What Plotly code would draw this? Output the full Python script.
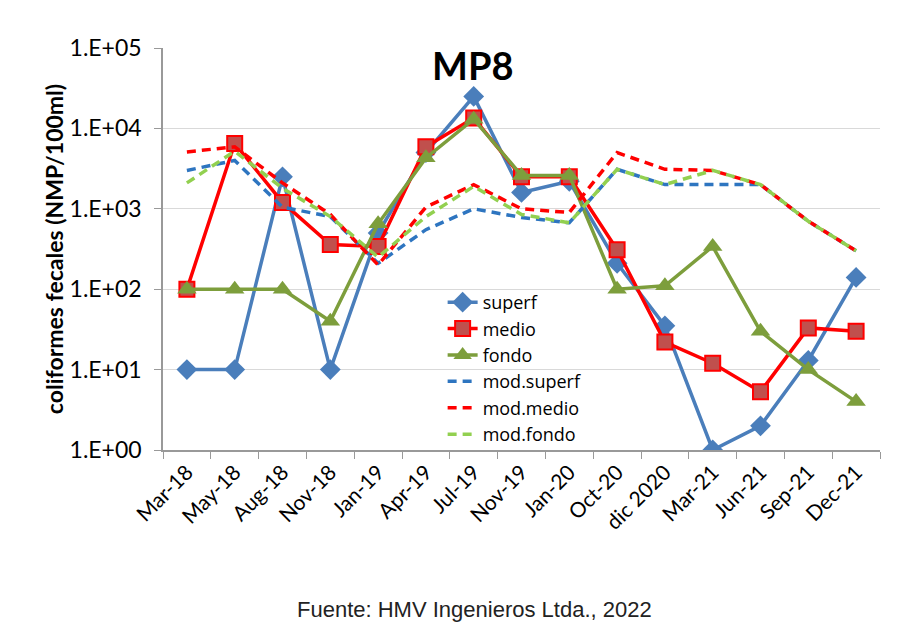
import plotly.graph_objects as go

categories = ["Mar-18", "May-18", "Aug-18", "Nov-18", "Jan-19", "Apr-19", "Jul-19",
              "Nov-19", "Jan-20", "Oct-20", "dic 2020", "Mar-21", "Jun-21", "Sep-21", "Dec-21"]

superf = [10, 10, 2500, 10, 500, 5000, 25000, 1600, 2200, 210, 35, 1, 2, 13, 140]
medio = [100, 6500, 1200, 360, 340, 5900, 13500, 2500, 2500, 310, 22, 12, 5.3, 33, 30]
fondo = [100, 100, 100, 40, 650, 4300, 13000, 2600, 2600, 100, 110, 340, 30, 10, 4]
mod_superf = [3000, 4000, 1050, 800, 210, 550, 1000, 780, 670, 3100, 2000, 2000, 2000, 700, 300]
mod_medio = [5100, 5900, 2100, 850, 200, 1050, 2000, 1000, 900, 5000, 3100, 3000, 2000, 700, 300]
mod_fondo = [2100, 5200, 1800, 800, 250, 800, 1900, 850, 670, 3100, 2000, 3000, 2000, 700, 300]

yticks = [1, 10, 100, 1000, 10000, 100000]
yticktext = ["1.E+00", "1.E+01", "1.E+02", "1.E+03", "1.E+04", "1.E+05"]

fig = go.Figure()

fig.add_trace(go.Scatter(x=categories, y=superf, name="superf", mode="lines+markers",
                         line=dict(color="#4a7ebb", width=3.5),
                         marker=dict(symbol="diamond", size=16, color="#4a7ebb")))
fig.add_trace(go.Scatter(x=categories, y=medio, name="medio", mode="lines+markers",
                         line=dict(color="#ff0000", width=3.5),
                         marker=dict(symbol="square", size=15, color="#c0504d",
                                     line=dict(color="#ff0000", width=2))))
fig.add_trace(go.Scatter(x=categories, y=fondo, name="fondo", mode="lines+markers",
                         line=dict(color="#7d9e3c", width=3.5),
                         marker=dict(symbol="triangle-up", size=17, color="#7d9e3c")))
fig.add_trace(go.Scatter(x=categories, y=mod_superf, name="mod.superf", mode="lines",
                         line=dict(color="#2e75c0", width=3.5, dash="9px,6px")))
fig.add_trace(go.Scatter(x=categories, y=mod_medio, name="mod.medio", mode="lines",
                         line=dict(color="#ff0000", width=3.5, dash="9px,6px")))
fig.add_trace(go.Scatter(x=categories, y=mod_fondo, name="mod.fondo", mode="lines",
                         line=dict(color="#92d050", width=3.5, dash="9px,6px")))

fig.update_layout(
    width=909, height=625,
    margin=dict(l=155, r=37, t=40, b=183),
    paper_bgcolor="white",
    plot_bgcolor="white",
    font=dict(family="Lato, Open Sans, sans-serif", color="#000000"),
    showlegend=True,
    legend=dict(x=0.39, y=0.413, xanchor="left", yanchor="top",
                bgcolor="rgba(0,0,0,0)", font=dict(size=18, family="Open Sans"),
                tracegroupgap=0),
    annotations=[
        dict(text="<b>MP8</b>", x=0.431, y=0.958, xref="paper", yref="paper",
             xanchor="center", yanchor="middle",
             showarrow=False, font=dict(size=38, family="Lato", color="#000000")),
        dict(text="Fuente: HMV Ingenieros Ltda., 2022", x=0.435, y=-0.398,
             xref="paper", yref="paper", xanchor="center", yanchor="middle",
             showarrow=False,
             font=dict(size=22, family="Liberation Sans, Arial", color="#222222")),
    ],
)

fig.update_xaxes(type="category", range=[-0.5, 14.5], showline=True,
                 linecolor="#999999", linewidth=1.5,
                 ticks="outside", tickson="boundaries", ticklen=7, tickcolor="#999999",
                 tickangle=-45, tickfont=dict(size=21, family="Lato"), showgrid=False,
                 automargin=False)
fig.update_yaxes(type="log", range=[0, 5], tickvals=yticks, ticktext=yticktext,
                 showline=True, linecolor="#999999", linewidth=1.5, ticks="outside",
                 ticklen=7, tickcolor="#999999", ticklabelstandoff=8,
                 showgrid=True, gridcolor="#d9d9d9",
                 gridwidth=1, tickfont=dict(size=23, family="Lato"), automargin=False,
                 title=dict(text="<b>coliformes fecales (NMP/100ml)</b>", standoff=0,
                            font=dict(size=23, family="Lato")))

fig.write_html("out.html")
